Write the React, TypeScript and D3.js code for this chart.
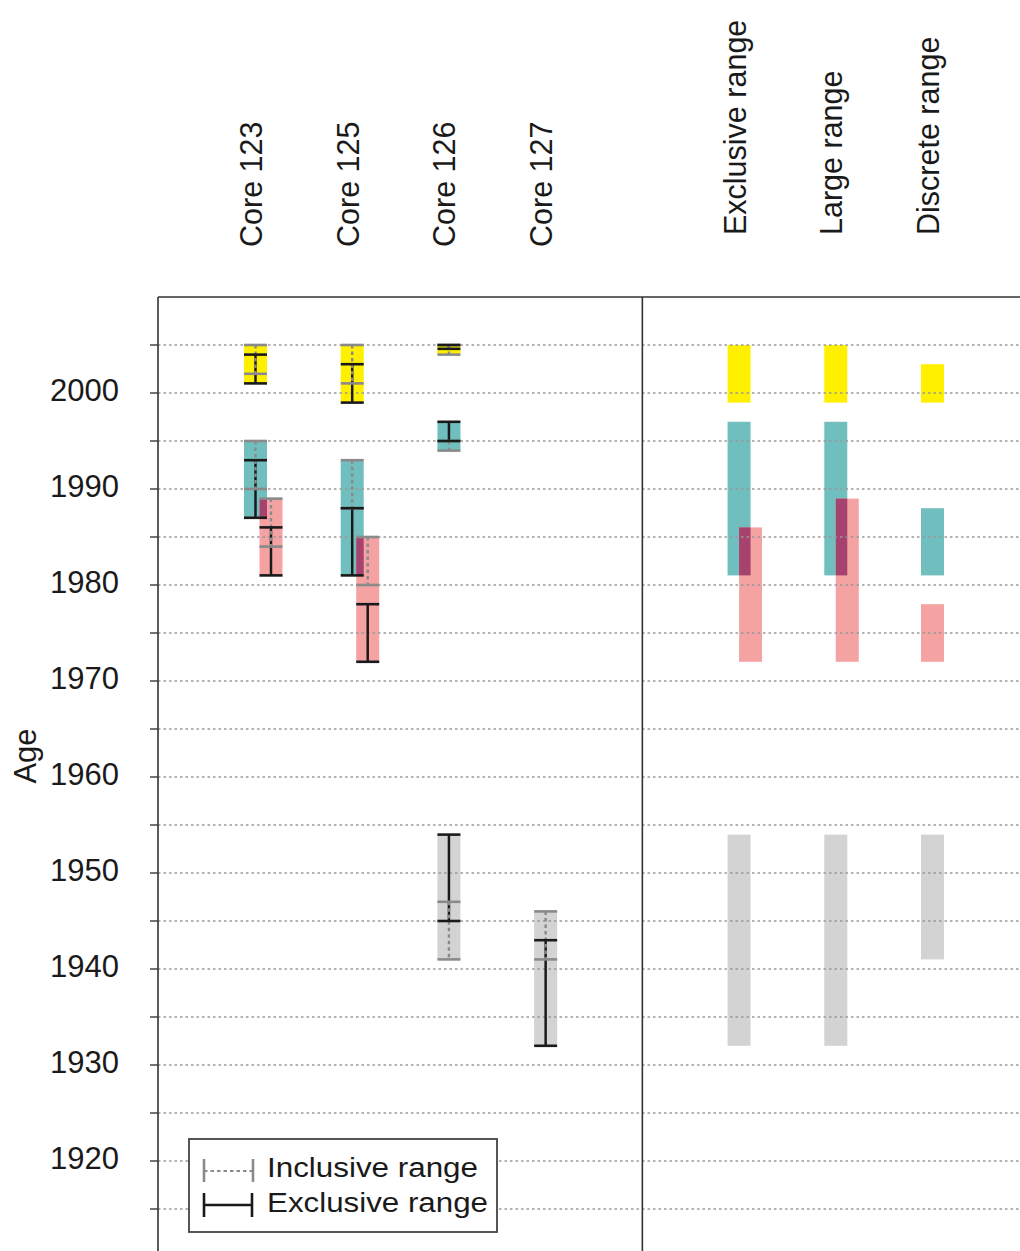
import React from "react";
import * as d3 from "d3";

// Age ranges (years AD) per sediment core: inclusive and exclusive dating ranges per horizon
const core123 = [
  { horizon: "h1", inclusive: [2002, 2005], exclusive: [2001, 2004] },
  { horizon: "h2", inclusive: [1990, 1995], exclusive: [1987, 1993] },
  { horizon: "h3", inclusive: [1984, 1989], exclusive: [1981, 1986] },
];
const core125 = [
  { horizon: "h1", inclusive: [2001, 2005], exclusive: [1999, 2003] },
  { horizon: "h2", inclusive: [1988, 1993], exclusive: [1981, 1988] },
  { horizon: "h3", inclusive: [1980, 1985], exclusive: [1972, 1978] },
];
const core126 = [
  { horizon: "h1", inclusive: [2004, 2005], exclusive: [2004.6, 2005] },
  { horizon: "h2", inclusive: [1994, 1995], exclusive: [1995, 1997] },
  { horizon: "h4", inclusive: [1941, 1947], exclusive: [1945, 1954] },
];
const core127 = [
  { horizon: "h4", inclusive: [1941, 1946], exclusive: [1932, 1943] },
];

// Combined age ranges per horizon
const exclusiveRange = [
  { horizon: "h1", span: [1999, 2005] },
  { horizon: "h2", span: [1981, 1997] },
  { horizon: "h3", span: [1972, 1986] },
  { horizon: "h4", span: [1932, 1954] },
];
const largeRange = [
  { horizon: "h1", span: [1999, 2005] },
  { horizon: "h2", span: [1981, 1997] },
  { horizon: "h3", span: [1972, 1989] },
  { horizon: "h4", span: [1932, 1954] },
];
const discreteRange = [
  { horizon: "h1", span: [1999, 2003] },
  { horizon: "h2", span: [1981, 1988] },
  { horizon: "h3", span: [1972, 1978] },
  { horizon: "h4", span: [1941, 1954] },
];

const coreNames = ["Core 123", "Core 125", "Core 126", "Core 127"];
const coreData = [core123, core125, core126, core127];
const summaryNames = ["Exclusive range", "Large range", "Discrete range"];
const summaryData = [exclusiveRange, largeRange, discreteRange];

const ageLabels = [1920, 1930, 1940, 1950, 1960, 1970, 1980, 1990, 2000];
const gridYears = [1915, 1920, 1925, 1930, 1935, 1940, 1945, 1950, 1955, 1960, 1965, 1970, 1975, 1980, 1985, 1990, 1995, 2000, 2005];

const horizonColor: Record<string, string> = {
  h1: "#fff000",
  h2: "#70bfbe",
  h3: "#f5a3a2",
  h4: "#d3d3d3",
};
const overlapColor = "#a5426e";

const FONT = "'Liberation Sans', Arial, Helvetica, sans-serif";
const W = 1020;
const H = 1251;

const y = d3.scaleLinear().domain([1910, 2010]).range([1257, 297]);
// slot 0..3 cores, slot 4 divider, slot 5..7 combined ranges
const slot = d3.scaleLinear().domain([0, 7]).range([255.5, 932.5]);

const BOX_W = 23;
const frameLeft = 158;
const frameTop = y(2010);
const dividerX = slot(4);

type Box = { horizon: string; lo: number; hi: number; x0: number };

function layoutBoxes(items: { horizon: string; span: number[] }[], cx: number, shift: number): { boxes: Box[]; overlap: null | { x0: number; x1: number; lo: number; hi: number } } {
  const boxes: Box[] = items.map((d) => ({ horizon: d.horizon, lo: d.span[0], hi: d.span[1], x0: cx - BOX_W / 2 }));
  const upper = boxes.find((b) => b.horizon === "h2");
  const lower = boxes.find((b) => b.horizon === "h3");
  let overlap = null;
  if (upper && lower && lower.hi > upper.lo) {
    lower.x0 += shift;
    overlap = {
      x0: lower.x0,
      x1: upper.x0 + BOX_W,
      lo: Math.max(upper.lo, lower.lo),
      hi: Math.min(upper.hi, lower.hi),
    };
  }
  return { boxes, overlap };
}

export default function App() {
  const coreLayouts = coreData.map((core, i) => {
    const cx = slot(i);
    const items = core.map((d) => ({
      horizon: d.horizon,
      span: [Math.min(d.inclusive[0], d.exclusive[0]), Math.max(d.inclusive[1], d.exclusive[1])],
    }));
    const { boxes, overlap } = layoutBoxes(items, cx, 15.5);
    return { cx, core, boxes, overlap };
  });
  const summaryLayouts = summaryData.map((s, i) => {
    const cx = slot(i + 5);
    const { boxes, overlap } = layoutBoxes(s, cx, 11.5);
    return { cx, boxes, overlap };
  });

  const allLayouts = [...coreLayouts, ...summaryLayouts];

  return (
    <svg width={W} height={H} style={{ position: "absolute", left: 0, top: 0, background: "#fff" }} fontFamily={FONT}>
      <rect x={0} y={0} width={W} height={H} fill="#fff" />

      {/* column headings */}
      {coreNames.map((name, i) => (
        <text key={name} transform={`translate(${slot(i) + 6.5},247) rotate(-90)`} textAnchor="start" fontSize={30.5} fill="#1a1a1a">
          {name}
        </text>
      ))}
      {summaryNames.map((name, i) => (
        <text key={name} transform={`translate(${slot(i + 5) + 6.5},235) rotate(-90)`} textAnchor="start" fontSize={30.5} fill="#1a1a1a">
          {name}
        </text>
      ))}

      {/* range boxes */}
      {allLayouts.map((L, i) => (
        <g key={"boxes" + i}>
          {L.boxes.map((b) => (
            <rect key={b.horizon} x={b.x0} y={y(b.hi)} width={BOX_W} height={y(b.lo) - y(b.hi)} fill={horizonColor[b.horizon]} />
          ))}
          {L.overlap && (
            <rect x={L.overlap.x0} y={y(L.overlap.hi)} width={L.overlap.x1 - L.overlap.x0} height={y(L.overlap.lo) - y(L.overlap.hi)} fill={overlapColor} />
          )}
        </g>
      ))}

      {/* dotted grid */}
      {gridYears.map((g) => (
        <line key={"g" + g} x1={frameLeft} x2={W} y1={y(g)} y2={y(g)} stroke="#999" strokeWidth={1.5} strokeDasharray="2.5,3" />
      ))}

      {/* error bars on the cores */}
      {coreLayouts.map((L, i) => (
        <g key={"bars" + i}>
          {L.core.map((d) => {
            const b = L.boxes.find((bb) => bb.horizon === d.horizon)!;
            const x0 = b.x0;
            const x1 = b.x0 + BOX_W;
            const mx = (x0 + x1) / 2;
            return (
              <g key={d.horizon}>
                <line x1={mx} x2={mx} y1={y(d.exclusive[1])} y2={y(d.exclusive[0])} stroke="#1a1a1a" strokeWidth={2.5} />
                <line x1={mx} x2={mx} y1={y(d.inclusive[1])} y2={y(d.inclusive[0])} stroke="#8a8a8a" strokeWidth={2.4} strokeDasharray="3.5,3" />
                {d.inclusive.map((v, k) => (
                  <line key={"i" + k} x1={x0} x2={x1} y1={y(v)} y2={y(v)} stroke="#8a8a8a" strokeWidth={2.6} />
                ))}
                {d.exclusive.map((v, k) => (
                  <line key={"e" + k} x1={x0} x2={x1} y1={y(v)} y2={y(v)} stroke="#1a1a1a" strokeWidth={2.6} />
                ))}
              </g>
            );
          })}
        </g>
      ))}

      {/* frame */}
      <line x1={frameLeft} x2={W} y1={frameTop} y2={frameTop} stroke="#333" strokeWidth={1.6} />
      <line x1={frameLeft} x2={frameLeft} y1={frameTop} y2={H} stroke="#333" strokeWidth={1.6} />
      <line x1={dividerX} x2={dividerX} y1={frameTop} y2={H} stroke="#333" strokeWidth={1.6} />

      {/* age axis */}
      {gridYears.map((g) => (
        <line key={"t" + g} x1={frameLeft - 8} x2={frameLeft} y1={y(g)} y2={y(g)} stroke="#444" strokeWidth={1.5} />
      ))}
      {ageLabels.map((a) => (
        <text key={"l" + a} x={119} y={y(a) + 7.5} textAnchor="end" fontSize={31} fill="#1a1a1a">
          {a}
        </text>
      ))}
      <text transform={`translate(36,756) rotate(-90)`} textAnchor="middle" fontSize={31} fill="#1a1a1a">
        Age
      </text>

      {/* legend */}
      <g>
        <rect x={189} y={1139} width={308} height={93} fill="#fff" stroke="#444" strokeWidth={1.8} />
        <line x1={204} x2={253} y1={1171} y2={1171} stroke="#8a8a8a" strokeWidth={2} strokeDasharray="3.5,3" />
        <line x1={204} x2={204} y1={1159} y2={1182} stroke="#8a8a8a" strokeWidth={2.6} />
        <line x1={253} x2={253} y1={1159} y2={1182} stroke="#8a8a8a" strokeWidth={2.6} />
        <text x={267} y={1177} fontSize={27} textLength={211} lengthAdjust="spacingAndGlyphs" fill="#1a1a1a">
          Inclusive range
        </text>
        <line x1={204} x2={252} y1={1205} y2={1205} stroke="#1a1a1a" strokeWidth={2.5} />
        <line x1={204} x2={204} y1={1193} y2={1217} stroke="#1a1a1a" strokeWidth={2.6} />
        <line x1={252} x2={252} y1={1193} y2={1217} stroke="#1a1a1a" strokeWidth={2.6} />
        <text x={267} y={1212} fontSize={27} textLength={221} lengthAdjust="spacingAndGlyphs" fill="#1a1a1a">
          Exclusive range
        </text>
      </g>
    </svg>
  );
}
